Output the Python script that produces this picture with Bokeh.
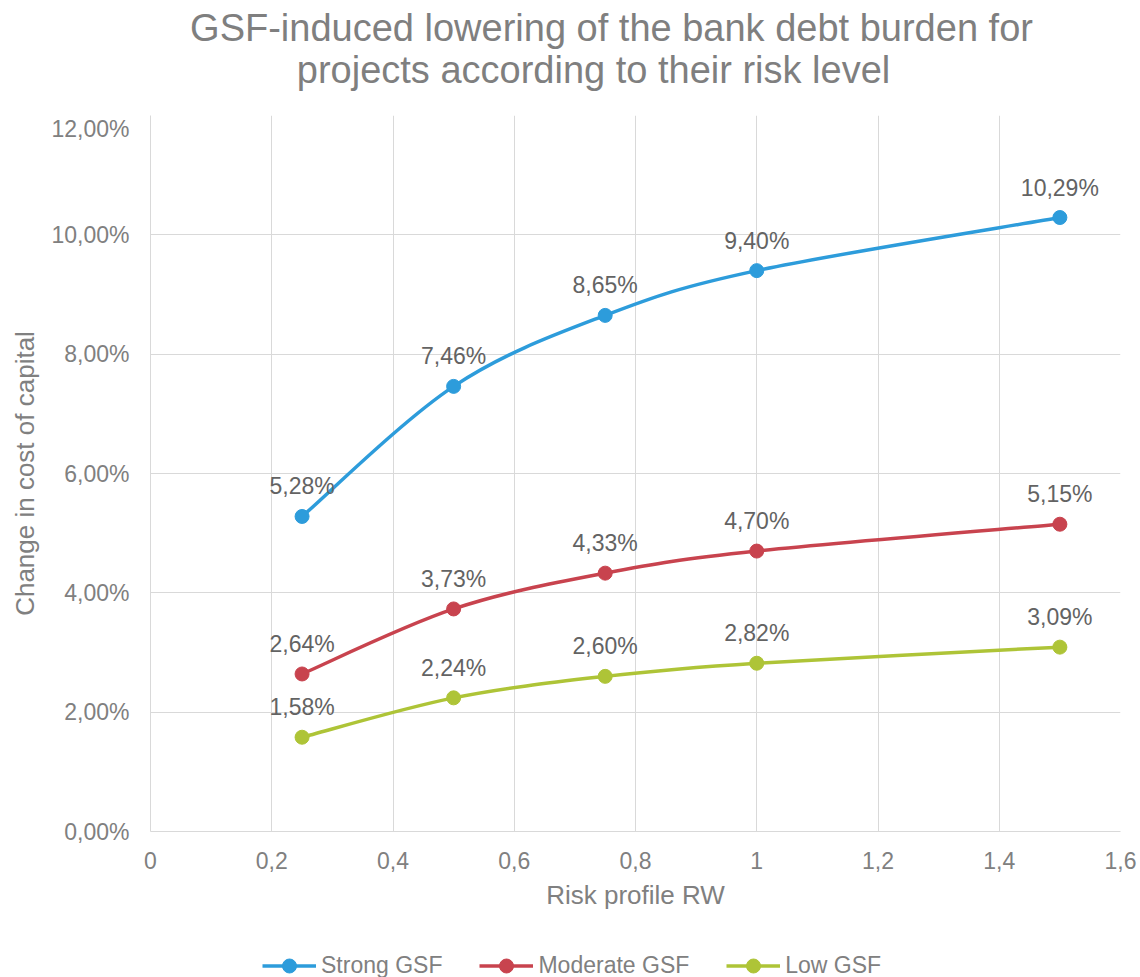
from bokeh.plotting import figure
from bokeh.layouts import column
from bokeh.models import (ColumnDataSource, LabelSet, Label, Legend, LegendItem,
                          FixedTicker, Range1d)
from bokeh.core.properties import value
from bokeh.embed import file_html
from bokeh.resources import INLINE

# ---- data ----
risk_rw = [0.25, 0.5, 0.75, 1.0, 1.5]
strong_gsf = [5.28, 7.46, 8.65, 9.40, 10.29]
moderate_gsf = [2.64, 3.73, 4.33, 4.70, 5.15]
low_gsf = [1.58, 2.24, 2.60, 2.82, 3.09]
series_names = ["Strong GSF", "Moderate GSF", "Low GSF"]
series_colors = ["#2D9CDB", "#C8434E", "#AEC437"]

x_ticks = [0, 0.2, 0.4, 0.6, 0.8, 1.0, 1.2, 1.4, 1.6]
x_tick_labels = ["0", "0,2", "0,4", "0,6", "0,8", "1", "1,2", "1,4", "1,6"]
y_ticks = [0, 2, 4, 6, 8, 10, 12]
y_tick_labels = ["0,00%", "2,00%", "4,00%", "6,00%", "8,00%", "10,00%", "12,00%"]

title_lines = ["GSF-induced lowering of the bank debt burden for",
               "projects according to their risk level"]
x_label = "Risk profile RW"
y_label = "Change in cost of capital"

FONT = "Liberation Sans"
GRID = "#D9D9D9"
AXTXT = "#808080"


def blank_figure(height, xr, yr):
    f = figure(width=1140, height=height, x_range=xr, y_range=yr,
               output_backend="svg", toolbar_location=None, title=None,
               min_border=0, outline_line_color=None,
               background_fill_color="white", border_fill_color="white")
    f.axis.visible = False
    f.grid.visible = False
    return f


# ---- title strip (115 px); its frame is aligned with the main frame (x from 150) ----
p_title = blank_figure(115, Range1d(0, 1), Range1d(0, 1))
for line, tx, ty in zip(title_lines, [461, 443], [88, 46]):
    p_title.add_layout(Label(x=tx, y=ty, x_units="screen", y_units="screen", text=line,
                             text_align="center", text_baseline="alphabetic",
                             text_font=FONT, text_font_size="38px",
                             text_color="#7F7F7F"))

# ---- main chart ----
p = figure(frame_width=970, frame_height=716, x_range=(0, 1.6), y_range=(0, 12),
           output_backend="svg", toolbar_location=None, title=None,
           min_border_left=150, min_border_right=20,
           min_border_top=0, min_border_bottom=100,
           outline_line_color=None, background_fill_color="white",
           border_fill_color="white")

p.xaxis.ticker = FixedTicker(ticks=x_ticks)
p.yaxis.ticker = FixedTicker(ticks=y_ticks)
p.xaxis.major_label_overrides = {t: l for t, l in zip(x_ticks, x_tick_labels)}
p.yaxis.major_label_overrides = {t: l for t, l in zip(y_ticks, y_tick_labels)}
for ax in (p.xaxis, p.yaxis):
    ax.axis_line_color = GRID
    ax.axis_line_width = 1
    ax.major_tick_line_color = None
    ax.minor_tick_line_color = None
    ax.major_label_text_font = FONT
    ax.major_label_text_font_size = "23px"
    ax.major_label_text_color = AXTXT
    ax.axis_label_text_font = FONT
    ax.axis_label_text_font_size = "26px"
    ax.axis_label_text_font_style = "normal"
    ax.axis_label_text_color = AXTXT
p.xaxis.axis_label = x_label
p.yaxis.axis_label = y_label
p.xaxis.major_label_standoff = 14
p.yaxis.major_label_standoff = 15
p.xaxis.axis_label_standoff = 8
p.yaxis.axis_label_standoff = 8

p.xgrid.ticker = FixedTicker(ticks=x_ticks)
p.ygrid.ticker = FixedTicker(ticks=y_ticks)
p.grid.grid_line_color = GRID
p.grid.grid_line_width = 1


def smooth_segments(xs, ys):
    """Catmull-Rom style cubic Bezier control points through the data points."""
    n = len(xs)
    out = dict(x0=[], y0=[], x1=[], y1=[], cx0=[], cy0=[], cx1=[], cy1=[])
    for i in range(n - 1):
        i0 = max(i - 1, 0)
        i3 = min(i + 2, n - 1)
        out["x0"].append(xs[i]); out["y0"].append(ys[i])
        out["x1"].append(xs[i + 1]); out["y1"].append(ys[i + 1])
        out["cx0"].append(xs[i] + (xs[i + 1] - xs[i0]) / 6)
        out["cy0"].append(ys[i] + (ys[i + 1] - ys[i0]) / 6)
        out["cx1"].append(xs[i + 1] - (xs[i3] - xs[i]) / 6)
        out["cy1"].append(ys[i + 1] - (ys[i3] - ys[i]) / 6)
    return out


# ---- legend strip: ranges chosen so the series data lies out of view ----
p_leg = blank_figure(46, Range1d(100, 101), Range1d(100, 101))
legend_items = []

for name, vals, col in zip(series_names, [strong_gsf, moderate_gsf, low_gsf], series_colors):
    seg = ColumnDataSource(smooth_segments(risk_rw, vals))
    p.bezier(x0="x0", y0="y0", x1="x1", y1="y1", cx0="cx0", cy0="cy0",
             cx1="cx1", cy1="cy1", source=seg, line_color=col, line_width=3.5)
    src = ColumnDataSource(dict(x=risk_rw, y=vals,
                                lbl=[f"{v:.2f}".replace(".", ",") + "%" for v in vals]))
    p.scatter(x="x", y="y", source=src, size=14, fill_color=col, line_color=col)
    p.add_layout(LabelSet(x="x", y="y", text="lbl", source=src, text_align="center",
                          text_baseline="alphabetic", y_offset=22,
                          text_font=value(FONT), text_font_size=value("23px"),
                          text_color="#636363"))
    # legend swatches: same series, drawn in a strip whose ranges hide the data
    rl = p_leg.line(x=risk_rw, y=vals, line_color=col, line_width=3.5)
    rs = p_leg.scatter(x=risk_rw, y=vals, size=14, fill_color=col, line_color=col)
    legend_items.append(LegendItem(label=name, renderers=[rl, rs]))

legend = Legend(items=legend_items, orientation="horizontal", location=(112, -6),
                border_line_color=None, background_fill_alpha=0,
                label_text_font=FONT, label_text_font_size="23px",
                label_text_color=AXTXT, glyph_width=54, glyph_height=35,
                label_standoff=5, spacing=37, margin=0, padding=0)
p_leg.add_layout(legend, "center")

layout = column(p_title, p, p_leg, spacing=0)
open("out.html", "w").write(file_html(layout, INLINE))
